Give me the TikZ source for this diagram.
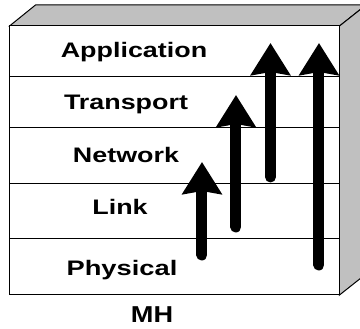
\documentclass[tikz,border=0pt]{standalone}
\usepackage{fontspec}
\setmainfont{Liberation Sans}
\usetikzlibrary{arrows.meta}
\definecolor{boxgray}{RGB}{192,192,192}
\tikzset{
  face/.style={draw=black, line width=1pt, line join=miter},
  layer/.style={anchor=base, inner sep=0pt, font=\fontsize{21}{25}\selectfont\bfseries},
  flow/.style={line width=11pt, line cap=round,
    -{Stealth[length=32pt, width=39pt, inset=3pt]}},
}
\newcommand{\wide}[2]{\scalebox{#1}[1]{#2}}
\begin{document}
\begin{tikzpicture}[x=1pt, y=-1pt]
  \useasboundingbox (0,0) rectangle (360,329);
  \clip (0,0) rectangle (360,329);
  % block: top face, right side face, front face
  \fill[white] (0,0) rectangle (360,329);
  \draw[face, fill=boxgray] (9.5,26) -- (35.5,5) -- (366,5) -- (339.5,26) -- cycle;
  \draw[face, fill=boxgray] (339.5,26) -- (366,5) -- (366,274) -- (339.5,295) -- cycle;
  \draw[face, fill=white] (9.5,26) rectangle (339.5,295);
  % layer boundaries
  \foreach \y in {77,128,184,239} \draw[face] (9.5,\y) -- (339.5,\y);
  % layer names
  \node[layer] (app)  at (134,58)  {\wide{1.28}{Application}};
  \node[layer] (tra)  at (126,110) {\wide{1.28}{Transport}};
  \node[layer] (net)  at (126,163) {\wide{1.28}{Network}};
  \node[layer] (lnk)  at (120,215) {\wide{1.28}{Link}};
  \node[layer] (phy)  at (122,276) {\wide{1.3}{Physical}};
  \node[anchor=base, inner sep=0pt, font=\fontsize{23}{27}\selectfont\bfseries]
    (mh) at (152,323) {\wide{1.18}{MH}};
  % upward data paths
  \coordinate (f1s) at (202,255); \coordinate (f1e) at (202,162);
  \coordinate (f2s) at (236,227); \coordinate (f2e) at (236,95);
  \coordinate (f3s) at (270.5,177); \coordinate (f3e) at (270.5,43);
  \coordinate (f4s) at (319,265); \coordinate (f4e) at (319,43);
  \draw[flow] (f1s) -- (f1e);
  \draw[flow] (f2s) -- (f2e);
  \draw[flow] (f3s) -- (f3e);
  \draw[flow] (f4s) -- (f4e);
\end{tikzpicture}
\end{document}
